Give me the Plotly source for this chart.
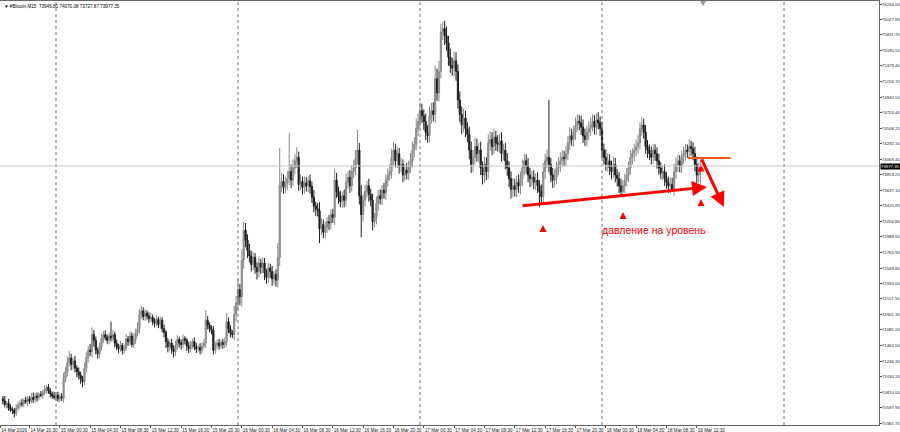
import plotly.graph_objects as go

# ---------------- data (M15 bars) ----------------
first_open = 70720
closes = [
    70690, 70640, 70660, 70590, 70570, 70560, 70520, 70590, 70630, 70660,
    70650, 70700, 70680, 70720, 70690, 70740, 70710, 70760, 70740, 70780,
    70770, 70810, 70850, 70880, 70830, 70790, 70760, 70740, 70770, 70720,
    70750, 70730, 71000, 71100, 71230, 71290, 71200, 71250, 71150, 71100,
    71050, 71000, 70960, 71150, 71300, 71400, 71380, 71620, 71540, 71400,
    71350, 71450, 71560, 71620, 71580, 71540, 71600, 71570, 71620, 71500,
    71450, 71420, 71470, 71400, 71430, 71560, 71520, 71600, 71480, 71550,
    71640, 71700, 71900, 71950, 71870, 71920, 71880, 71840, 71860, 71800,
    71780, 71830, 71760, 71820, 71700, 71650, 71520, 71450, 71500, 71420,
    71380, 71460, 71550, 71500, 71480, 71560, 71540, 71460, 71420, 71480,
    71520, 71450, 71420, 71440, 71400, 71460, 71500, 71820, 71750, 71700,
    71680, 71400, 71480, 71500, 71460, 71510, 71480, 71520, 71800, 71700,
    71640, 71620, 71900, 72060, 72250, 72150, 72660, 73080, 72940, 72800,
    72720, 72600, 72700, 72560, 72500, 72620, 72560, 72620, 72480, 72420,
    72550, 72500, 72400, 72460, 72380, 72700, 73710, 73760, 73680, 73740,
    73800, 73900, 73780, 73950, 74050, 74100, 73720, 73760, 73680, 73740,
    73700, 73770, 73690, 73540, 73420, 73380, 73350, 73100, 73160, 73050,
    73120, 73200, 73180, 73300, 73260, 73780, 73620, 73550, 73480, 73560,
    73500, 73750, 73820, 73700, 73900, 73950, 74080, 74200, 73560, 73300,
    73500, 73620, 73700, 73580, 73500, 73200, 73250, 73450, 73560, 73520,
    73640, 73600, 73780, 73850, 73900, 74100, 74200, 74050, 74150, 73980,
    74000, 73850, 73920, 73880, 73960, 74050, 74200, 74280, 74500, 74600,
    74750, 74680, 74600, 74450, 74400, 74680, 74750, 74700, 75200, 75000,
    75300, 75850, 75900, 75800, 75700, 75500, 75380, 75350, 75450, 75300,
    74900, 74700, 74550, 74650, 74500, 74420, 74200, 74000, 74100, 74250,
    74150, 74200, 73950, 73850, 74000, 73900, 74300, 74350, 74250, 74380,
    74300, 74280, 74330, 74150, 74200, 74050, 73950, 73800, 73650, 73700,
    73650, 73750, 73700, 73800, 73950, 74050, 73980, 73850, 73800, 73820,
    73750, 73780, 73700, 73620, 73550, 73900, 74050, 74100, 74000, 73850,
    73780, 73820, 73950, 74000, 74050, 74100, 74080, 74150, 74300, 74400,
    74350, 74450, 74550, 74600, 74580, 74520, 74400, 74350, 74450, 74500,
    74550, 74600, 74520, 74620, 74580, 74500, 74200, 74100, 74000, 74050,
    73950, 73900, 74000, 73850, 73800, 73700, 73620, 73700, 73780, 73850,
    73950, 74100, 74150, 74200, 74250, 74300, 74500, 74550, 74450, 74250,
    74200, 74150, 74100, 74200, 74150, 74050, 73950, 73880, 73900, 73800,
    73750, 73700, 73720, 73650, 73900, 74000, 74050, 73980, 74100, 74150,
    74200, 74180, 74250, 74220, 74150, 74000, 73850, 73946.80, 73977.35,
]
upper_wick = [
    40, 70, 30, 60, 50, 40, 30, 60, 50, 40,
    60, 30, 50, 40, 40, 60, 70, 40, 50, 30,
    50, 40, 60, 30, 50, 40, 30, 60, 40, 50,
    40, 50, 90, 70, 80, 100, 60, 50, 70, 40,
    60, 50, 40, 80, 70, 60, 90, 100, 60, 50,
    40, 60, 70, 50, 60, 40, 50, 200, 60, 40,
    50, 40, 60, 30, 50, 70, 40, 60, 50, 80,
    60, 90, 80, 70, 50, 60, 40, 50, 60, 40,
    50, 60, 40, 50, 40, 60, 30, 50, 40, 60,
    50, 70, 60, 40, 50, 60, 40, 30, 60, 50,
    40, 60, 50, 40, 60, 50, 60, 140, 60, 40,
    50, 60, 40, 50, 60, 40, 50, 60, 120, 60,
    50, 40, 120, 100, 150, 80, 150, 120, 100, 80,
    90, 70, 80, 60, 70, 90, 60, 80, 70, 60,
    70, 60, 80, 50, 70, 200, 520, 120, 100, 90,
    110, 540, 100, 120, 90, 140, 80, 100, 70, 90,
    80, 60, 90, 70, 100, 60, 80, 120, 90, 70,
    80, 60, 90, 70, 80, 150, 100, 70, 80, 60,
    90, 120, 80, 100, 90, 110, 120, 280, 100, 150,
    80, 90, 70, 100, 80, 90, 70, 100, 80, 90,
    70, 100, 80, 90, 100, 120, 110, 90, 100, 80,
    90, 70, 80, 100, 90, 110, 120, 100, 140, 110,
    120, 100, 90, 110, 100, 130, 110, 120, 180, 140,
    150, 120, 90, 110, 130, 100, 120, 110, 130, 120,
    100, 120, 110, 130, 100, 90, 110, 120, 100, 120,
    110, 100, 120, 90, 110, 100, 120, 110, 100, 120,
    90, 110, 100, 120, 90, 100, 110, 90, 100, 110,
    100, 90, 110, 100, 120, 100, 90, 110, 100, 90,
    100, 90, 110, 80, 100, 120, 100, 110, 800, 90,
    100, 110, 90, 100, 120, 100, 90, 110, 100, 120,
    100, 90, 110, 100, 90, 100, 110, 100, 90, 100,
    110, 100, 90, 100, 110, 90, 100, 90, 110, 100,
    90, 100, 110, 90, 80, 90, 100, 80, 90, 100,
    90, 100, 80, 90, 100, 110, 90, 110, 90, 100,
    90, 80, 100, 90, 80, 90, 100, 80, 90, 100,
    90, 80, 100, 90, 110, 100, 90, 80, 90, 100,
    90, 80, 100, 80, 90, 100, 110, 80, 92.73,
]
lower_wick = [
    50, 40, 60, 40, 30, 50, 60, 40, 30, 50,
    40, 50, 30, 60, 40, 30, 50, 40, 60, 40,
    30, 50, 40, 60, 40, 50, 40, 30, 50, 40,
    50, 40, 60, 50, 70, 60, 80, 70, 60, 80,
    60, 70, 80, 50, 60, 70, 60, 80, 90, 60,
    70, 60, 50, 60, 40, 50, 60, 50, 40, 60,
    50, 60, 40, 60, 50, 40, 60, 50, 40, 50,
    60, 50, 70, 60, 50, 60, 50, 60, 40, 50,
    60, 40, 50, 60, 50, 70, 90, 80, 60, 70,
    80, 60, 50, 60, 70, 50, 60, 70, 60, 50,
    60, 50, 60, 40, 60, 50, 40, 70, 60, 50,
    60, 60, 50, 60, 50, 40, 60, 50, 70, 60,
    60, 50, 80, 90, 100, 120, 140, 120, 100, 110,
    90, 100, 80, 90, 110, 80, 90, 80, 100, 90,
    80, 90, 100, 80, 90, 100, 120, 100, 90, 80,
    100, 90, 110, 80, 90, 100, 90, 80, 100, 90,
    80, 90, 100, 80, 90, 100, 80, 200, 90, 80,
    90, 80, 100, 90, 80, 110, 90, 100, 80, 90,
    100, 80, 90, 100, 80, 90, 100, 80, 120, 320,
    100, 90, 80, 100, 90, 120, 80, 90, 100, 80,
    90, 80, 100, 90, 80, 100, 110, 90, 100, 110,
    90, 100, 80, 90, 100, 80, 90, 100, 80, 100,
    90, 100, 120, 110, 100, 90, 110, 100, 120, 110,
    120, 100, 110, 130, 110, 120, 100, 110, 120, 130,
    120, 110, 130, 100, 120, 110, 130, 120, 110, 100,
    110, 120, 100, 130, 110, 120, 100, 110, 120, 100,
    110, 100, 120, 110, 100, 120, 110, 120, 130, 110,
    100, 110, 100, 120, 110, 100, 110, 100, 120, 110,
    100, 110, 100, 220, 110, 100, 110, 100, 110, 100,
    110, 100, 90, 100, 110, 90, 100, 110, 90, 100,
    90, 100, 110, 90, 100, 110, 100, 90, 100, 110,
    100, 90, 100, 110, 90, 100, 110, 100, 90, 100,
    100, 110, 90, 100, 110, 100, 60, 90, 100, 90,
    100, 90, 100, 110, 90, 100, 90, 100, 90, 100,
    110, 90, 100, 90, 100, 110, 100, 90, 100, 100,
    90, 100, 110, 30, 90, 100, 110, 90, 100, 90,
    100, 90, 110, 100, 90, 100, 110, 100, 218.93,
]

# time axis: bar 0 = 14 Mar 17:00, one bar = 15 minutes
x_tick_idx = [-1.4, 14, 30, 46, 62, 78, 94, 110, 126, 142, 158, 174, 190, 206,
              222, 238, 254, 270, 286, 302, 318, 334, 350, 366]
x_tick_text = ["14 Mar 2026", "14 Mar 20:30", "15 Mar 00:30", "15 Mar 04:30",
               "15 Mar 08:30", "15 Mar 12:30", "15 Mar 16:30", "15 Mar 20:30",
               "16 Mar 00:30", "16 Mar 04:30", "16 Mar 08:30", "16 Mar 12:30",
               "16 Mar 16:30", "16 Mar 20:30", "17 Mar 00:30", "17 Mar 04:30",
               "17 Mar 08:30", "17 Mar 12:30", "17 Mar 16:30", "17 Mar 20:30",
               "18 Mar 00:30", "18 Mar 04:30", "18 Mar 08:30", "18 Mar 12:30"]
day_separators = [28, 124, 220, 316, 412]
shift_mark = 369.3

y_tick_vals = [76244.00, 76027.85, 75811.70, 75595.55, 75379.40, 75156.70,
               74940.55, 74724.40, 74508.25, 74292.10, 74069.40, 73853.25,
               73637.10, 73420.95, 73204.80, 72988.65, 72765.95, 72549.80,
               72333.65, 72117.50, 71901.35, 71685.20, 71462.50, 71246.35,
               71030.20, 70814.05, 70597.90, 70381.75]

last_price = 73977.35
title_text = "#Bitcoin,M15  73946.80 74070.08 73727.87 73977.35"
note_text = "давление на уровень"

# drawing objects (bar index, price)
trend_start = (273.3, 73418)
trend_end = (371.4, 73684)
level_line = (361.3, 384.0, 74090)
drop_start = (368.2, 74090)
drop_end = (380.3, 73404)
arrow_marks_x = [284.9, 327.1, 368.2, 368.2]
arrow_marks_y = [73152, 73334, 73516, 74000]
note_pos = (343.4, 73082)

# ---------------- build ----------------
opens = [first_open] + closes[:-1]
highs = [max(o, c) + u for o, c, u in zip(opens, closes, upper_wick)]
lows = [min(o, c) - d for o, c, d in zip(opens, closes, lower_wick)]
idx = list(range(len(closes)))

fig = go.Figure()
fig.add_trace(go.Candlestick(
    x=idx, open=opens, high=highs, low=lows, close=closes,
    increasing=dict(line=dict(color="#8a8a8a", width=1), fillcolor="#9a9a9a"),
    decreasing=dict(line=dict(color="#1e1e1e", width=1), fillcolor="#1e1e1e"),
    whiskerwidth=0, showlegend=False, hoverinfo="skip",
))

fig.add_trace(go.Scatter(
    x=arrow_marks_x, y=arrow_marks_y, mode="markers",
    marker=dict(symbol="arrow-up", size=7, color="#ff0000", line=dict(width=0)),
    showlegend=False, hoverinfo="skip",
))

shapes = []
for d in day_separators:
    shapes.append(dict(type="line", xref="x", yref="paper", x0=d, x1=d, y0=0, y1=1,
                       line=dict(color="#707070", width=1, dash="dot")))
shapes.append(dict(type="line", xref="paper", yref="y", x0=0, x1=1,
                   y0=last_price, y1=last_price, line=dict(color="#c8c8c8", width=1)))
shapes.append(dict(type="line", xref="x", yref="y", x0=level_line[0], x1=level_line[1],
                   y0=level_line[2], y1=level_line[2], line=dict(color="#ff5a1e", width=2)))
shapes.append(dict(type="path", xref="x", yref="paper",
                   path=f"M {shift_mark - 1.6},1 L {shift_mark + 1.6},1 L {shift_mark},0.988 Z",
                   fillcolor="#9a9a9a", line=dict(width=0)))
fig.update_layout(shapes=shapes)

ann = []
ann.append(dict(x=trend_end[0], y=trend_end[1], ax=trend_start[0], ay=trend_start[1],
                xref="x", yref="y", axref="x", ayref="y", showarrow=True, text="",
                arrowhead=2, arrowsize=1, arrowwidth=3, arrowcolor="#ff0000"))
ann.append(dict(x=drop_end[0], y=drop_end[1], ax=drop_start[0], ay=drop_start[1],
                xref="x", yref="y", axref="x", ayref="y", showarrow=True, text="",
                arrowhead=2, arrowsize=1, arrowwidth=3, arrowcolor="#ff0000"))
ann.append(dict(x=note_pos[0], y=note_pos[1], xref="x", yref="y", text=note_text,
                showarrow=False, font=dict(family="Liberation Sans", size=10.5, color="#ff0000")))
ann.append(dict(x=0, y=1, xref="paper", yref="paper", xanchor="left", yanchor="top",
                xshift=2, yshift=-1, text="\u25bc " + title_text, showarrow=False,
                font=dict(family="Liberation Sans", size=4.6, color="#000000")))
ann.append(dict(x=1, y=last_price, xref="paper", yref="y", xanchor="left", yanchor="middle",
                xshift=1, text=f"{last_price:.2f}", showarrow=False, bgcolor="#000000",
                borderpad=0, font=dict(family="Liberation Sans", size=4.3, color="#ffffff")))
fig.update_layout(annotations=ann)

fig.update_layout(
    width=900, height=432,
    margin=dict(l=0, r=21, t=1, b=7, pad=0, autoexpand=False),
    paper_bgcolor="#ffffff", plot_bgcolor="#ffffff",
    boxgap=0.1,
    xaxis=dict(range=[-1.54, 462.1], showgrid=False, zeroline=False,
               rangeslider=dict(visible=False), automargin=False,
               tickmode="array", tickvals=x_tick_idx, ticktext=x_tick_text,
               tickangle=0, ticks="outside", ticklen=2, tickcolor="#555555",
               ticklabelposition="outside right",
               tickfont=dict(family="Liberation Sans", size=4.6, color="#222222"),
               showline=True, linecolor="#666666", linewidth=1, mirror=True),
    yaxis=dict(range=[70354, 76286], side="right", showgrid=False, zeroline=False,
               automargin=False,
               tickmode="array", tickvals=y_tick_vals,
               ticktext=[f"{v:.2f}" for v in y_tick_vals],
               ticks="outside", ticklen=2, tickcolor="#555555",
               ticklabelstandoff=-1,
               tickfont=dict(family="Liberation Sans", size=4.3, color="#222222"),
               showline=True, linecolor="#666666", linewidth=1, mirror=True),
)

fig.write_html("out.html", config={"displayModeBar": False},
               post_script="document.body.style.margin='0';document.body.style.overflow='hidden';")
